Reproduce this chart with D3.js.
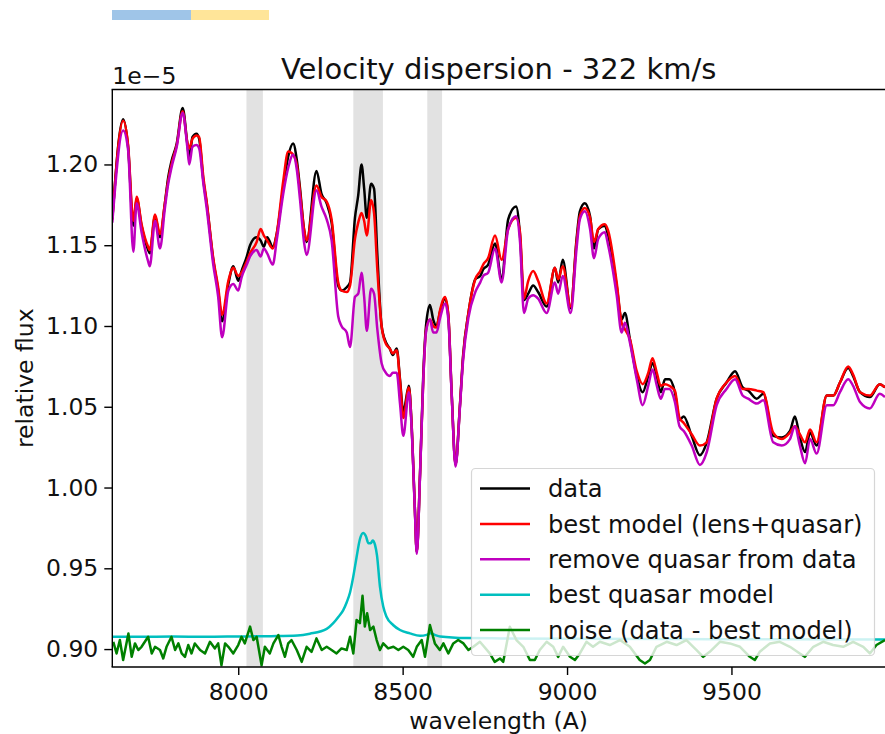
<!DOCTYPE html>
<html>
<head>
<meta charset="utf-8">
<script src="https://cdn.jsdelivr.net/npm/d3@7"></script>
<style>
  body { margin: 0; background: #fff; }
  svg { display: block; }
  text { font-family: "DejaVu Sans", sans-serif; fill: #111; }
</style>
</head>
<body>
<svg id="chart" width="885" height="734"></svg>
<script>
// Spectrum samples: wavelength in Angstrom, flux in units of 1e-5
const wavelength = [
  7617,7650,7665,7681,7691,7706,7726,7731,7747,7762,
  7777,7787,7797,7813,7831,7845,7851,7861,7873,7881,
  7894,7904,7924,7939,7951,7970,7985,8000,8010,8026,
  8036,8056,8068,8078,8088,8105,8117,8137,8152,8167,
  8178,8188,8200,8208,8238,8253,8269,8284,8304,8314,
  8330,8340,8355,8365,8375,8383,8391,8404,8413,8423,
  8436,8449,8461,8470,8482,8492,8502,8519,8527,8537,
  8543,8553,8563,8571,8583,8593,8603,8614,8629,8639,
  8649,8661,8674,8684,8700,8721,8736,8745,8760,8781,
  8801,8821,8845,8857,8869,8882,8897,8912,8938,8963,
  8973,8987,9011,9029,9039,9054,9070,9082,9095,9115,
  9125,9151,9166,9176,9191,9212,9230,9247,9260,9273,
  9285,9298,9311,9328,9342,9355,9379,9404,9425,9455,
  9485,9511,9534,9551,9577,9597,9627,9653,9678,9693,
  9708,9724,9739,9759,9790,9810,9830,9855,9870,9891,
  9921,9951,9967
];

const dataFlux = [
  1.166,1.228,1.211,1.162,1.179,1.162,1.147,1.145,1.168,1.155,
  1.176,1.192,1.202,1.213,1.235,1.213,1.204,1.217,1.219,1.216,
  1.190,1.176,1.141,1.122,1.103,1.126,1.137,1.128,1.134,1.143,
  1.150,1.155,1.153,1.149,1.155,1.149,1.157,1.186,1.205,1.213,
  1.203,1.185,1.160,1.152,1.196,1.182,1.176,1.164,1.125,1.122,
  1.124,1.127,1.167,1.181,1.200,1.185,1.167,1.188,1.185,1.144,
  1.100,1.090,1.086,1.082,1.086,1.067,1.047,1.063,1.040,0.988,
  0.960,1.009,1.071,1.100,1.113,1.104,1.100,1.109,1.117,1.106,
  1.059,1.014,1.050,1.082,1.108,1.129,1.131,1.135,1.138,1.151,
  1.129,1.166,1.174,1.156,1.116,1.120,1.125,1.121,1.112,1.136,
  1.127,1.141,1.111,1.154,1.171,1.176,1.168,1.148,1.160,1.162,
  1.156,1.125,1.104,1.108,1.092,1.069,1.059,1.069,1.077,1.069,
  1.059,1.067,1.067,1.059,1.042,1.044,1.032,1.020,1.028,1.055,
  1.065,1.072,1.062,1.060,1.055,1.058,1.032,1.031,1.035,1.044,
  1.031,1.022,1.034,1.026,1.057,1.057,1.065,1.074,1.069,1.059,
  1.056,1.064,1.062
];

const modelFlux = [
  1.166,1.227,1.212,1.165,1.180,1.163,1.149,1.147,1.169,1.157,
  1.176,1.190,1.200,1.212,1.233,1.214,1.210,1.216,1.218,1.217,
  1.192,1.177,1.142,1.124,1.107,1.128,1.136,1.131,1.133,1.140,
  1.145,1.152,1.160,1.156,1.153,1.148,1.157,1.190,1.208,1.206,
  1.200,1.183,1.160,1.153,1.187,1.180,1.177,1.166,1.127,1.122,
  1.121,1.125,1.154,1.164,1.170,1.165,1.156,1.178,1.170,1.135,
  1.100,1.089,1.086,1.083,1.085,1.066,1.043,1.062,1.040,0.988,
  0.960,1.009,1.068,1.097,1.104,1.100,1.099,1.110,1.118,1.107,
  1.059,1.014,1.050,1.081,1.108,1.129,1.134,1.138,1.142,1.156,
  1.141,1.160,1.167,1.158,1.117,1.128,1.134,1.128,1.114,1.136,
  1.129,1.137,1.112,1.152,1.168,1.173,1.167,1.152,1.160,1.163,
  1.159,1.127,1.102,1.098,1.092,1.072,1.064,1.071,1.080,1.071,
  1.063,1.064,1.063,1.060,1.043,1.040,1.033,1.026,1.028,1.055,
  1.065,1.069,1.061,1.061,1.060,1.059,1.034,1.030,1.034,1.038,
  1.033,1.028,1.036,1.028,1.057,1.057,1.065,1.075,1.070,1.059,
  1.057,1.064,1.062
];

const noQuasarFlux = [
  1.164,1.221,1.209,1.146,1.176,1.158,1.140,1.137,1.165,1.148,
  1.173,1.188,1.198,1.211,1.232,1.211,1.200,1.211,1.212,1.210,
  1.188,1.173,1.138,1.118,1.093,1.122,1.126,1.122,1.130,1.138,
  1.143,1.147,1.143,1.148,1.145,1.138,1.153,1.182,1.198,1.206,
  1.197,1.178,1.152,1.144,1.184,1.174,1.166,1.153,1.106,1.100,
  1.096,1.087,1.118,1.120,1.133,1.118,1.097,1.123,1.120,1.098,
  1.077,1.071,1.069,1.071,1.071,1.052,1.032,1.059,1.038,0.987,
  0.959,1.008,1.068,1.096,1.104,1.096,1.096,1.105,1.114,1.104,
  1.058,1.013,1.049,1.079,1.105,1.121,1.127,1.131,1.133,1.148,
  1.127,1.160,1.168,1.152,1.108,1.117,1.119,1.117,1.108,1.127,
  1.120,1.131,1.108,1.148,1.166,1.171,1.160,1.142,1.154,1.158,
  1.150,1.119,1.096,1.102,1.090,1.067,1.051,1.063,1.073,1.063,
  1.055,1.061,1.061,1.053,1.038,1.035,1.026,1.014,1.022,1.051,
  1.061,1.067,1.057,1.055,1.052,1.054,1.028,1.026,1.030,1.038,
  1.026,1.015,1.030,1.021,1.051,1.051,1.059,1.067,1.063,1.053,
  1.049,1.058,1.056
];

// Best quasar model: [wavelength, flux]
const quasarModel = [
  [7617,0.9076],[7700,0.9076],[7800,0.9078],[7900,0.9076],[8000,0.9078],
  [8100,0.9080],[8180,0.9084],[8218,0.9095],[8269,0.9125],[8289,0.9160],
  [8305,0.9200],[8319,0.9240],[8330,0.9290],[8340,0.9350],[8350,0.9450],
  [8360,0.9570],[8370,0.9680],[8380,0.9719],[8388,0.9700],[8396,0.9655],
  [8403,0.9655],[8409,0.9672],[8416,0.9645],[8422,0.9580],[8431,0.9387],
  [8441,0.9263],[8451,0.9200],[8471,0.9149],[8492,0.9118],[8522,0.9097],
  [8553,0.9082],[8573,0.9088],[8585,0.9098],[8598,0.9088],[8614,0.9078],
  [8695,0.9068],[8800,0.9066],[9000,0.9064],[9300,0.9062],[9600,0.9061],
  [9967,0.9060]
];

// Residual noise (data - best model), offset to the 0.90 baseline: [wavelength, flux]
const noise = [
  [7620,0.9045],[7630,0.8973],[7640,0.9056],[7650,0.8932],[7666,0.9097],
  [7676,0.8952],[7686,0.9035],[7696,0.8994],[7706,0.9014],[7716,0.9045],
  [7726,0.9076],[7737,0.8973],[7747,0.9014],[7762,0.8994],[7772,0.8942],
  [7782,0.9014],[7797,0.9076],[7808,0.8994],[7818,0.9035],[7828,0.8973],
  [7838,0.8952],[7848,0.9025],[7858,0.8973],[7868,0.9035],[7884,0.8994],
  [7899,0.8973],[7914,0.9045],[7929,0.9004],[7939,0.9035],[7949,0.8900],
  [7960,0.9035],[7970,0.9014],[7985,0.8973],[8000,0.9025],[8010,0.9076],
  [8020,0.9035],[8036,0.9139],[8046,0.9056],[8056,0.9076],[8071,0.8900],
  [8081,0.9014],[8096,0.8973],[8107,0.9035],[8122,0.9087],[8132,0.9014],
  [8142,0.8952],[8152,0.9035],[8162,0.9056],[8178,0.8994],[8193,0.8921],
  [8208,0.9014],[8223,0.8983],[8238,0.9066],[8254,0.8994],[8269,0.9014],
  [8284,0.8994],[8299,0.8973],[8314,0.9004],[8330,0.8994],[8340,0.9076],
  [8350,0.8973],[8360,0.9180],[8370,0.9160],[8378,0.9330],[8385,0.9139],
  [8392,0.9222],[8401,0.9118],[8411,0.9139],[8421,0.9056],[8431,0.8994],
  [8441,0.9035],[8456,0.9004],[8472,0.9014],[8487,0.8994],[8502,0.9014],
  [8517,0.8994],[8532,0.8952],[8543,0.9014],[8558,0.9056],[8568,0.8952],
  [8583,0.9149],[8598,0.9035],[8613,0.8994],[8624,0.9035],[8639,0.8973],
  [8654,0.9035],[8669,0.9056],[8685,0.9035],[8700,0.8994],[8715,0.9014],
  [8735,0.9045],[8765,0.8973],[8780,0.8921],[8796,0.8942],[8806,0.8921],
  [8826,0.9138],[8846,0.9056],[8867,0.9014],[8887,0.8932],[8902,0.8932],
  [8917,0.8994],[8938,0.9045],[8958,0.9014],[8973,0.8952],[8988,0.9014],
  [9009,0.8952],[9024,0.8932],[9039,0.8973],[9059,0.9045],[9079,0.9014],
  [9100,0.9045],[9130,0.9025],[9161,0.9056],[9191,0.9014],[9221,0.8932],
  [9237,0.8911],[9252,0.8932],[9272,0.9014],[9303,0.9045],[9333,0.9025],
  [9363,0.9056],[9394,0.8994],[9414,0.8952],[9434,0.8983],[9465,0.9045],
  [9495,0.9035],[9526,0.9014],[9556,0.8952],[9571,0.8932],[9586,0.8983],
  [9617,0.9035],[9647,0.9045],[9678,0.9014],[9708,0.8973],[9723,0.8952],
  [9749,0.9014],[9779,0.9045],[9809,0.9025],[9840,0.9014],[9870,0.9045],
  [9901,0.9014],[9921,0.8973],[9941,0.9025],[9967,0.9056]
];

// Wavelength windows excluded from the fit
const maskedRanges = [[8025, 8075], [8350, 8440], [8575, 8620]];

const xTicks = [8000, 8500, 9000, 9500];
const yTicks = [0.90, 0.95, 1.00, 1.05, 1.10, 1.15, 1.20];

const legendLabels = [
  "data",
  "best model (lens+quasar)",
  "remove quasar from data",
  "best quasar model",
  "noise (data - best model)"
];
const seriesColors = ["#000000", "#ff0000", "#bf00bf", "#00bfbf", "#008000"];

const titleText = "Velocity dispersion - 322 km/s";
const xLabel = "wavelength (A)";
const yLabel = "relative flux";
const offsetText = "1e\u22125";

// ---------------------------------------------------------------
const svg = d3.select("#chart");
const plot = { left: 112.3, right: 885, top: 89.5, bottom: 667 };
const tickFont = 23.5;
const legendFont = 24.2;

const x = d3.scaleLinear().domain([7617, 9967]).range([plot.left, plot.right]);
const y = d3.scaleLinear().domain([0.8889, 1.2464]).range([plot.bottom, plot.top]);

// Colour strip above the figure
const strip = svg.append("g");
strip.append("rect").attr("x", 112).attr("y", 10).attr("width", 79).attr("height", 10).attr("fill", "#9fc5e8");
strip.append("rect").attr("x", 191).attr("y", 10).attr("width", 78).attr("height", 10).attr("fill", "#ffe599");

svg.append("defs").append("clipPath").attr("id", "plot-clip")
  .append("rect")
  .attr("x", plot.left).attr("y", plot.top)
  .attr("width", plot.right - plot.left).attr("height", plot.bottom - plot.top);

const body = svg.append("g").attr("clip-path", "url(#plot-clip)");

// Masked wavelength bands
body.selectAll("rect.mask")
  .data(maskedRanges)
  .join("rect")
  .attr("class", "mask")
  .attr("x", d => x(d[0]))
  .attr("width", d => x(d[1]) - x(d[0]))
  .attr("y", plot.top)
  .attr("height", plot.bottom - plot.top)
  .attr("fill", "#e2e2e2");

const smooth = d3.line()
  .x(d => x(d[0]))
  .y(d => y(d[1]))
  .curve(d3.curveMonotoneX);

const jagged = d3.line()
  .x(d => x(d[0]))
  .y(d => y(d[1]));

const pair = arr => wavelength.map((w, i) => [w, arr[i]]);

const series = [
  { pts: pair(dataFlux), gen: smooth },
  { pts: pair(modelFlux), gen: smooth },
  { pts: pair(noQuasarFlux), gen: smooth },
  { pts: quasarModel, gen: smooth },
  { pts: noise, gen: jagged }
];

series.forEach((s, i) => {
  body.append("path")
    .attr("d", s.gen(s.pts))
    .attr("fill", "none")
    .attr("stroke", seriesColors[i])
    .attr("stroke-width", 2.5)
    .attr("stroke-linejoin", "round")
    .attr("stroke-linecap", "butt");
});

// Axes
const xAxis = svg.append("g")
  .attr("transform", `translate(0,${plot.bottom})`)
  .call(d3.axisBottom(x).tickValues(xTicks).tickFormat(d3.format("d")).tickSize(8).tickPadding(8).tickSizeOuter(0));

const yAxis = svg.append("g")
  .attr("transform", `translate(${plot.left},0)`)
  .call(d3.axisLeft(y).tickValues(yTicks).tickFormat(d3.format(".2f")).tickSize(8).tickPadding(6).tickSizeOuter(0));

[xAxis, yAxis].forEach(g => {
  g.select(".domain").remove();
  g.selectAll(".tick line").attr("stroke", "#000").attr("stroke-width", 1.4);
  g.selectAll(".tick text")
    .style("font-family", "'DejaVu Sans', sans-serif")
    .style("font-size", tickFont + "px")
    .attr("fill", "#111");
});

// Spines (left, bottom, top)
const spines = svg.append("g").attr("stroke", "#000").attr("stroke-width", 1.4);
spines.append("line").attr("x1", plot.left).attr("x2", plot.left).attr("y1", plot.top).attr("y2", plot.bottom);
spines.append("line").attr("x1", plot.left - 0.7).attr("x2", plot.right).attr("y1", plot.bottom).attr("y2", plot.bottom);
spines.append("line").attr("x1", plot.left - 0.7).attr("x2", plot.right).attr("y1", plot.top).attr("y2", plot.top);

// Texts
svg.append("text")
  .attr("x", (plot.left + plot.right) / 2).attr("y", 79)
  .attr("text-anchor", "middle")
  .style("font-size", "29px")
  .text(titleText);

svg.append("text")
  .attr("x", plot.left).attr("y", 84)
  .style("font-size", tickFont + "px")
  .text(offsetText);

svg.append("text")
  .attr("x", (plot.left + plot.right) / 2).attr("y", 729)
  .attr("text-anchor", "middle")
  .style("font-size", tickFont + "px")
  .text(xLabel);

svg.append("text")
  .attr("transform", `translate(33,${(plot.top + plot.bottom) / 2}) rotate(-90)`)
  .attr("text-anchor", "middle")
  .style("font-size", tickFont + "px")
  .text(yLabel);

// Legend
const legend = svg.append("g");
const lg = { x: 471.5, y: 468.5, w: 403, h: 187, row0: 488.5, step: 35.4 };
legend.append("rect")
  .attr("x", lg.x).attr("y", lg.y)
  .attr("width", lg.w).attr("height", lg.h)
  .attr("rx", 4)
  .attr("fill", "#fff").attr("fill-opacity", 0.8)
  .attr("stroke", "#ccc").attr("stroke-opacity", 0.8).attr("stroke-width", 1.2);

legendLabels.forEach((label, i) => {
  const cy = lg.row0 + i * lg.step;
  legend.append("line")
    .attr("x1", 480).attr("x2", 530)
    .attr("y1", cy).attr("y2", cy)
    .attr("stroke", seriesColors[i]).attr("stroke-width", 2.5);
  legend.append("text")
    .attr("x", 548).attr("y", cy)
    .attr("dy", "0.36em")
    .style("font-size", legendFont + "px")
    .text(label);
});
</script>
</body>
</html>
